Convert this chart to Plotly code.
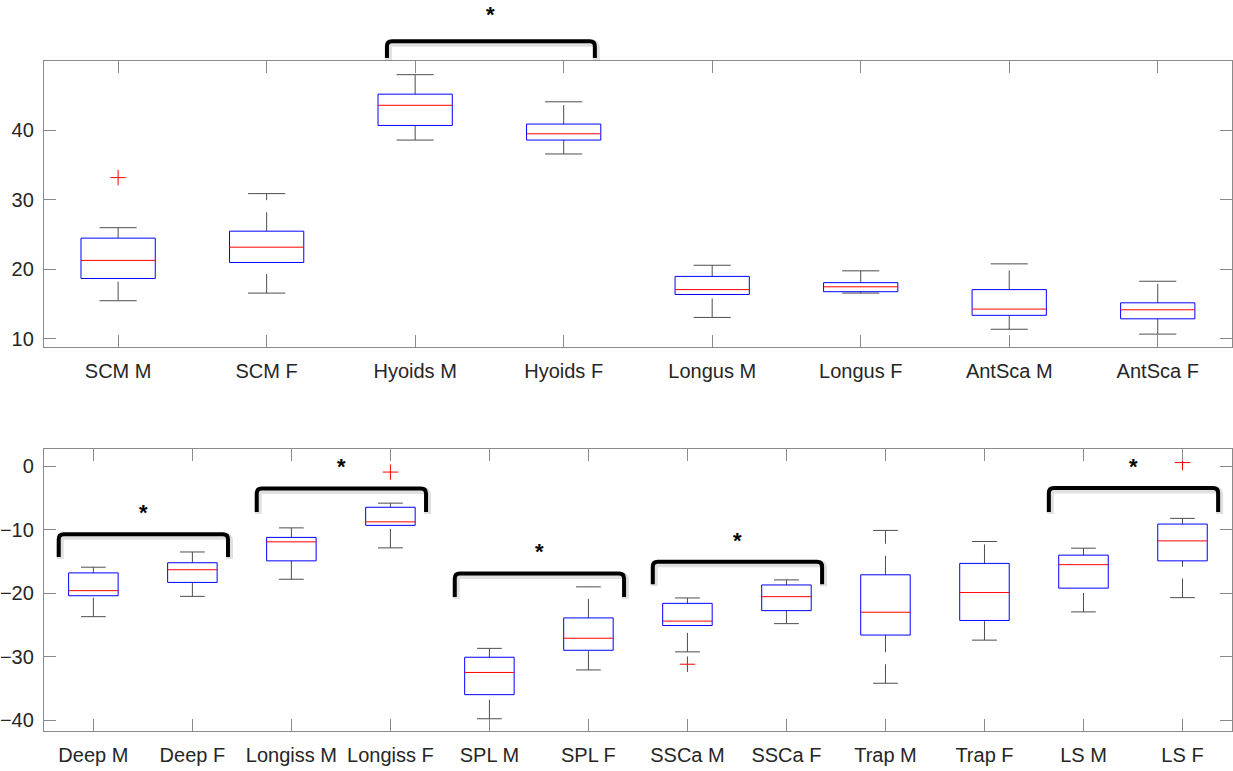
import plotly.graph_objects as go

# ---- upper panel: neck flexor groups ----
top_labels = ["SCM M", "SCM F", "Hyoids M", "Hyoids F",
              "Longus M", "Longus F", "AntSca M", "AntSca F"]
top_lower = [15.5, 16.6, 38.6, 36.6, 13.1, 16.6, 11.4, 10.7]
top_q1 = [18.7, 21.0, 40.7, 38.6, 16.4, 16.8, 13.4, 12.9]
top_median = [21.3, 23.2, 43.6, 39.5, 17.1, 17.5, 14.3, 14.2]
top_q3 = [24.5, 25.5, 45.2, 40.9, 19.0, 18.1, 17.1, 15.2]
top_upper = [26.0, 30.9, 48.0, 44.1, 20.6, 19.8, 20.8, 18.3]
top_outlier_labels = ["SCM M"]
top_outlier_values = [33.2]

# ---- lower panel: neck extensor groups ----
bot_labels = ["Deep M", "Deep F", "Longiss M", "Longiss F", "SPL M", "SPL F",
              "SSCa M", "SSCa F", "Trap M", "Trap F", "LS M", "LS F"]
bot_lower = [-23.7, -20.5, -17.8, -12.85, -39.8, -32.1,
             -29.25, -24.8, -34.2, -27.4, -22.95, -20.7]
bot_q1 = [-20.4, -18.3, -14.9, -9.3, -36.0, -29.0,
          -25.1, -22.75, -26.6, -24.3, -19.2, -14.9]
bot_median = [-19.6, -16.3, -11.9, -8.75, -32.5, -27.1,
              -24.4, -20.55, -23.0, -19.9, -15.5, -11.75]
bot_q3 = [-16.8, -15.2, -11.2, -6.45, -30.1, -23.9,
          -21.6, -18.7, -17.1, -15.3, -14.0, -9.1]
bot_upper = [-15.9, -13.5, -9.7, -5.8, -28.7, -19.0,
             -20.75, -17.9, -10.1, -11.85, -12.9, -8.2]
bot_outlier_labels = ["Longiss F", "SSCa M", "LS F"]
bot_outlier_values = [-0.9, -31.2, 0.6]

# significance brackets: (panel, first group, second group, bracket level, leg end)
sig_pairs = [
    ("top", "Hyoids M", "Hyoids F", 52.8, 50.4),
    ("bot", "Deep M", "Deep F", -10.7, -14.3),
    ("bot", "Longiss M", "Longiss F", -3.5, -7.2),
    ("bot", "SPL M", "SPL F", -16.9, -20.6),
    ("bot", "SSCa M", "SSCa F", -15.05, -18.6),
    ("bot", "LS M", "LS F", -3.4, -7.2),
]
# asterisk heights above each bracket
sig_star_levels = [57.3, -6.45, 0.7, -12.7, -10.85, 0.8]

W, H = 1233, 771
TOP_RANGE = [8.9, 50.0]
BOT_RANGE = [-41.8, 2.7]
TOP_DOMAIN = [1 - 348 / H, 1 - 61 / H]
BOT_DOMAIN = [1 - 734.3 / H, 1 - 451 / H]
X_DOMAIN = [41 / W, 1.0]

AXIS_GRAY = "#8a8a8a"
TEXT = "#262626"
WHISKER = "#4d4d4d"
FONT = "Liberation Sans, Arial, Helvetica, sans-serif"

fig = go.Figure()


def add_boxes(labels, lower, q1, med, q3, upper, xa, ya):
    bx, by, mx, my, cx, cy = [], [], [], [], [], []
    for i in range(len(labels)):
        p = i + 1
        bx += [p - 0.25, p + 0.25, p + 0.25, p - 0.25, p - 0.25, None]
        by += [q1[i], q1[i], q3[i], q3[i], q1[i], None]
        mx += [p - 0.25, p + 0.25, None]
        my += [med[i], med[i], None]
        cx += [p - 0.125, p + 0.125, None, p - 0.125, p + 0.125, None]
        cy += [lower[i], lower[i], None, upper[i], upper[i], None]
        # dashed whiskers, each drawn upward
        for y0, y1 in ((lower[i], q1[i]), (q3[i], upper[i])):
            fig.add_trace(go.Scatter(
                x=[p, p], y=[y0, y1], mode="lines", xaxis=xa, yaxis=ya,
                line=dict(color=WHISKER, width=1, dash="19px,12px"),
                hoverinfo="skip", showlegend=False))
    fig.add_trace(go.Scatter(x=cx, y=cy, mode="lines", xaxis=xa, yaxis=ya,
                             line=dict(color=WHISKER, width=1),
                             hoverinfo="skip", showlegend=False))
    fig.add_trace(go.Scatter(x=bx, y=by, mode="lines", xaxis=xa, yaxis=ya,
                             line=dict(color="#0000ff", width=1),
                             hoverinfo="skip", showlegend=False))
    fig.add_trace(go.Scatter(x=mx, y=my, mode="lines", xaxis=xa, yaxis=ya,
                             line=dict(color="#ff0000", width=1),
                             hoverinfo="skip", showlegend=False))


def add_outliers(labels, out_labels, out_values, xa, ya):
    fig.add_trace(go.Scatter(
        x=[labels.index(n) + 1 for n in out_labels], y=out_values,
        mode="markers", xaxis=xa, yaxis=ya,
        marker=dict(symbol="cross-thin", size=11, color="#ff0000",
                    line=dict(color="#ff0000", width=1)),
        hoverinfo="skip", showlegend=False))


add_boxes(top_labels, top_lower, top_q1, top_median, top_q3, top_upper, "x", "y")
add_outliers(top_labels, top_outlier_labels, top_outlier_values, "x", "y")
add_boxes(bot_labels, bot_lower, bot_q1, bot_median, bot_q3, bot_upper, "x2", "y2")
add_outliers(bot_labels, bot_outlier_labels, bot_outlier_values, "x2", "y2")


def to_paper(v, rng, dom):
    return dom[0] + (v - rng[0]) / (rng[1] - rng[0]) * (dom[1] - dom[0])


def bracket_path(xl, xr, yt, yb, rx, ry):
    return (f"M{xl},{yb} L{xl},{yt - ry} Q{xl},{yt} {xl + rx},{yt} "
            f"L{xr - rx},{yt} Q{xr},{yt} {xr},{yt - ry} L{xr},{yb}")


for (panel, a, b, lvl, leg), star in zip(sig_pairs, sig_star_levels):
    if panel == "top":
        labels, rng, dom, xref = top_labels, TOP_RANGE, TOP_DOMAIN, "x"
        xl = labels.index(a) + 1 - 0.19
        xr = labels.index(b) + 1 + 0.21
        unit_px = 149.0
    else:
        labels, rng, dom, xref = bot_labels, BOT_RANGE, BOT_DOMAIN, "x2"
        xl = labels.index(a) + 1 - 0.35
        xr = labels.index(b) + 1 + 0.36
        unit_px = 99.4
    yt = to_paper(lvl, rng, dom)
    yb = to_paper(leg, rng, dom)
    rx = 5 / unit_px
    ry = 5 / H
    # soft drop shadow, then the bracket itself
    dx, dy = 1.5 / unit_px, 2 / H
    fig.add_shape(type="path", xref=xref, yref="paper",
                  path=bracket_path(xl + dx, xr + dx, yt - dy, yb - dy, rx, ry),
                  line=dict(color="rgba(0,0,0,0.12)", width=7))
    fig.add_shape(type="path", xref=xref, yref="paper",
                  path=bracket_path(xl, xr, yt, yb, rx, ry),
                  line=dict(color="black", width=4))
    fig.add_annotation(x=(labels.index(a) + labels.index(b)) / 2 + 1 + 0.01,
                       y=to_paper(star, rng, dom), xref=xref, yref="paper",
                       xanchor="center", yanchor="middle",
                       text="<b>*</b>", showarrow=False, yshift=-5,
                       font=dict(size=22, color="black", family=FONT))

axis_common = dict(showline=True, linecolor=AXIS_GRAY, linewidth=1,
                   mirror="ticks", ticks="inside", ticklen=12,
                   tickcolor=AXIS_GRAY, tickwidth=1, showgrid=False,
                   zeroline=False, tickfont=dict(size=20, color=TEXT, family=FONT))

fig.update_layout(
    width=W, height=H,
    margin=dict(l=0, r=0, t=0, b=0),
    paper_bgcolor="white", plot_bgcolor="white",
    showlegend=False,
    xaxis=dict(domain=X_DOMAIN, anchor="y", range=[0.5, len(top_labels) + 0.5],
               tickvals=list(range(1, len(top_labels) + 1)), ticktext=top_labels,
               ticklabelstandoff=6, **axis_common),
    yaxis=dict(domain=TOP_DOMAIN, anchor="x", range=TOP_RANGE,
               tickvals=[10, 20, 30, 40], ticklabelstandoff=5, **axis_common),
    xaxis2=dict(domain=X_DOMAIN, anchor="y2", range=[0.5, len(bot_labels) + 0.5],
                tickvals=list(range(1, len(bot_labels) + 1)), ticktext=bot_labels,
                ticklabelstandoff=6, **axis_common),
    yaxis2=dict(domain=BOT_DOMAIN, anchor="x2", range=BOT_RANGE,
                tickvals=[-40, -30, -20, -10, 0], ticklabelstandoff=5, **axis_common),
)

fig.write_html("out.html")
